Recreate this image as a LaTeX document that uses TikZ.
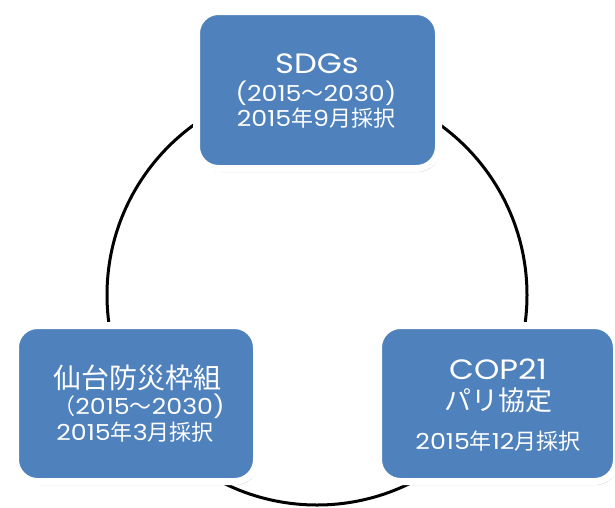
\documentclass[tikz,border=0pt]{standalone}
\usepackage{fontspec}
\setmainfont{Poppins}[FakeStretch=1.15]
\newfontfamily\cjk{Noto Sans CJK JP}
\usetikzlibrary{shadows}
\definecolor{boxblue}{HTML}{4F81BD}
\tikzset{
  box/.style={draw=white, line width=7pt, fill=boxblue, rounded corners=22pt,
    inner sep=0pt, drop shadow={shadow xshift=1.5pt, shadow yshift=-3.5pt, opacity=0.35, fill=black!70}},
  lbl/.style={text=white, inner sep=0pt, anchor=base, text height=0.74em, text depth=0.06em},
  big/.style={lbl, font=\fontsize{28}{30}\selectfont},
  small/.style={lbl, font=\fontsize{22}{24}\selectfont},
  ring/.style={draw=black, line width=3pt}
}
\begin{document}
\begin{tikzpicture}[x=1pt,y=-1pt]
\useasboundingbox (0,0) rectangle (615,507);
\coordinate (c) at (317,295);
\draw[ring] (c) circle[radius=210pt];
% top box
\node[box, minimum width=242pt, minimum height=157pt] (sdgs) at (317.5,90) {};
\node[big] (sdgs1) at (317,73) {SDGs};
\node[small] (sdgs2) at (316,101) {(2015{\cjk ～}2030)};
\node[small] (sdgs3) at (316,126) {2015{\cjk 年}9{\cjk 月採択}};
% left box
\node[box, minimum width=241pt, minimum height=156pt] (sendai) at (136,403.5) {};
\node[lbl, font=\fontsize{28}{30}\selectfont\cjk] (sendai1) at (137,388) {仙台防災枠組};
\node[small] (sendai2) at (139,414) {{\cjk （}2015{\cjk ～}2030)};
\node[small] (sendai3) at (135,440) {2015{\cjk 年}3{\cjk 月採択}};
% right box
\node[box, minimum width=238pt, minimum height=156pt] (cop) at (497.5,403.5) {};
\node[big] (cop1) at (498,379) {COP21};
\node[lbl, font=\fontsize{27}{30}\selectfont\cjk] (cop2) at (498,410) {パリ協定};
\node[small] (cop3) at (498,449) {2015{\cjk 年}12{\cjk 月採択}};
\end{tikzpicture}
\end{document}
